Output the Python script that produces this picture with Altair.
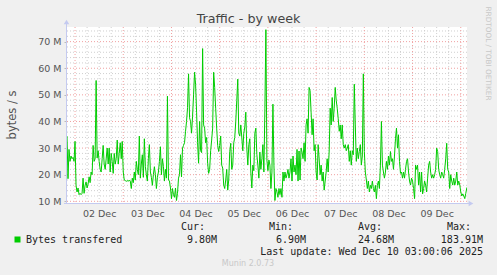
import json
import altair as alt
import pandas as pd

# ---- data (values in millions of bytes/s, one sample every 30 min) ----
bytes_m = [
    # Dec 1 20:00 - 23:30
    34.5, 18.5, 29.5, 25, 27, 26, 26.5, 25,
    # Dec 2
    32.5, 16, 13.5, 15, 12.5, 13, 12.5, 13, 18.7, 13, 16, 17.3, 15, 16.5, 19.2, 17,
    21, 20, 31, 25, 26, 55.4, 26.3, 29, 25, 22, 21, 26, 31, 24, 22, 26,
    30, 24, 30, 21, 28, 25, 20.5, 28, 24, 26, 33, 24, 28, 32, 26, 32.5,
    # Dec 3
    21, 18, 17.8, 17.5, 17.8, 17.5, 18, 17.6, 14.8, 18.7, 17, 21, 18, 25, 22, 20,
    34.5, 18.7, 24, 27.5, 19, 33.5, 23, 20, 17.6, 26, 31.3, 21, 19, 16, 20, 23,
    20, 14.8, 19, 21, 25, 30.5, 20, 26, 23, 17.6, 22, 18.7, 49.5, 18, 17.6, 15,
    # Dec 4
    11, 14.8, 12.5, 11.5, 15, 10.3, 13, 18.7, 20, 27.5, 19.2, 30, 31, 32, 36.3, 40,
    45.2, 57.9, 41.4, 40, 35.6, 42, 50, 58.5, 54, 43.5, 32, 24.3, 40, 29, 28.3, 67.4,
    38.7, 37.5, 32, 34, 24.3, 20.5, 22, 29, 33, 37.5, 58.5, 52.8, 45, 37.5, 31, 28.7,
    # Dec 5
    31, 34.5, 23.6, 22.5, 16.1, 14.8, 18, 22, 14.2, 18, 28.7, 31.8, 22, 23.6, 32, 34,
    40, 47.8, 55.9, 35.6, 34.5, 38.7, 34, 29, 35.6, 38, 43.5, 30, 23.6, 31.3, 33.5, 21,
    15, 23.6, 21.5, 35.6, 37.5, 27.5, 23.6, 18.7, 28.5, 22, 26, 31.3, 21, 45, 74.5, 25.5,
    # Dec 6
    21.5, 25.5, 23.6, 14.8, 21, 46.5, 23.6, 10.3, 14.8, 13.5, 11.5, 14.8, 12.5, 14.8, 11.5, 21,
    17.6, 21, 18.7, 20, 22, 18.7, 21, 26, 17.6, 27, 21, 23.6, 20, 29.5, 17.6, 28.9,
    18, 30, 28.5, 26, 32, 25, 38.7, 41, 35.6, 52.8, 51.5, 43.5, 35, 41, 29, 31.3,
    # Dec 7
    21, 18, 31.3, 26, 20, 23.6, 17.6, 21, 14.2, 17.6, 21, 26, 21, 28.9, 45, 38.7,
    49, 40, 45, 52.8, 48, 45, 41, 36.3, 38.7, 33.5, 38.7, 31.3, 30, 31.3, 29, 30,
    31.3, 25, 29, 23.6, 29, 27.5, 54, 38.7, 25, 30, 26, 28.7, 31.3, 23.6, 27, 57.9,
    # Dec 8
    28.7, 21, 18, 14.8, 17.6, 13.5, 16, 14.8, 17.6, 14.8, 13.5, 16, 11, 16, 17.6, 14.8,
    23.6, 40, 23.6, 21, 18.7, 21, 25, 22, 27, 23.6, 28.7, 25, 26, 22, 27, 33.5,
    37.5, 30, 35, 25, 20.5, 21, 18.7, 21, 18.7, 22, 25, 26, 21, 17.6, 16.1, 18.7,
    # Dec 9
    17.6, 14.8, 11, 23.6, 22, 23.6, 16.1, 21, 13.5, 21, 12.8, 14.8, 17.6, 16.1, 13.5, 18.7,
    23.6, 25, 21, 18.7, 20, 18.7, 20, 22, 30, 28.7, 22, 20, 18.7, 21, 20, 18.7,
    22, 26, 31.8, 22, 21, 14.8, 20, 17.6, 16.1, 18.7, 16.1, 17.6, 21, 16.1, 17.6, 16.1,
    # Dec 10 00:00 - 03:30
    13.5, 12, 12.8, 12, 11, 13, 15, 15.5,
]
start_hour = -4.0          # first sample: Dec 1 20:00 (hours from Dec 2 00:00)
step_hours = 0.5
day_labels = ["02 Dec", "03 Dec", "04 Dec", "05 Dec", "06 Dec", "07 Dec", "08 Dec", "09 Dec"]
y_ticks = [10, 20, 30, 40, 50, 60, 70]
series_name = "Bytes transfered"
stat_names = ["Cur:", "Min:", "Avg:", "Max:"]
stat_values = ["9.80M", "6.90M", "24.68M", "183.91M"]
title_text = "Traffic - by week"
y_title = "bytes / s"
last_update = "Last update: Wed Dec 10 03:00:06 2025"
side_text = "RRDTOOL / TOBI OETIKER"
footer = "Munin 2.0.73"

# ---- layout ----
W, H = 400, 176
OX, OY = 67, 27            # plot-area origin in the page
X_DOMAIN = [-4.0, 195.1]
Y_DOMAIN = [9.36, 75.5]

df = pd.DataFrame({
    "h": [start_hour + step_hours * i for i in range(len(bytes_m))],
    "v": bytes_m,
})

xs = alt.Scale(domain=X_DOMAIN, nice=False, zero=False)
ys = alt.Scale(domain=Y_DOMAIN, nice=False, zero=False)

label_expr = "%s[floor(datum.value / 24)]" % json.dumps(day_labels)
x_axis = alt.Axis(
    values=[12 + 24 * k for k in range(len(day_labels))], labelExpr=label_expr,
    title=None, grid=False, domain=False, ticks=False, labelPadding=5,
    labelFont="DejaVu Sans", labelFontSize=9.5, labelColor="#555")
y_axis = alt.Axis(
    values=y_ticks, labelExpr="datum.value + ' M'", title=None, grid=False,
    domain=False, ticks=True, tickSize=3, tickColor="#BBBBBB", labelPadding=3,
    labelFont="DejaVu Sans", labelFontSize=9.5, labelColor="#555")

minor_y = [v for v in range(10, 76, 2) if v % 10]
major_y = y_ticks
minor_x = [h for h in range(6, 196, 6) if h % 24]
major_x = [h for h in range(0, 196, 24)]

MINOR_C = "#CFCFCF"
MAJOR_C = "#F0A0A0"
DASH = [1, 2]


def hrules(vals, color):
    return alt.Chart(pd.DataFrame({"v": vals})).mark_rule(
        color=color, strokeDash=DASH, strokeWidth=1
    ).encode(y=alt.Y("v:Q", scale=ys, axis=y_axis))


def vrules(vals, color):
    return alt.Chart(pd.DataFrame({"h": vals})).mark_rule(
        color=color, strokeDash=DASH, strokeWidth=1
    ).encode(x=alt.X("h:Q", scale=xs, axis=x_axis))


def txt(s, x, y, size=10, font="DejaVu Sans Mono", color="#222", align="left",
        baseline="middle", angle=0):
    kw = dict(font=font, fontSize=size, color=color, align=align, baseline=baseline)
    if angle:
        kw["angle"] = angle
    return alt.Chart(pd.DataFrame({"t": [s]})).mark_text(**kw).encode(
        x=alt.value(x - OX), y=alt.value(y - OY), text="t:N"
    )


line = alt.Chart(df).mark_line(color="#00CC00", strokeWidth=1, clip=True).encode(
    x=alt.X("h:Q", scale=xs, axis=x_axis),
    y=alt.Y("v:Q", scale=ys, axis=y_axis),
)

AXIS_C = "#C4CAF0"
axis_lines = [
    alt.Chart(pd.DataFrame({"a": [0]})).mark_rule(color=AXIS_C, strokeWidth=1).encode(
        x=alt.value(-0.5), y=alt.value(-4), y2=alt.value(H + 1)),
    alt.Chart(pd.DataFrame({"a": [0]})).mark_rule(color=AXIS_C, strokeWidth=1).encode(
        x=alt.value(-3), x2=alt.value(W + 3), y=alt.value(H + 0.5)),
    alt.Chart(pd.DataFrame({"a": [0]})).mark_point(
        shape="triangle-up", filled=True, color=AXIS_C, size=30, opacity=1).encode(
        x=alt.value(-0.5), y=alt.value(-5)),
    alt.Chart(pd.DataFrame({"a": [0]})).mark_point(
        shape="triangle-right", filled=True, color=AXIS_C, size=30, opacity=1).encode(
        x=alt.value(W + 4), y=alt.value(H + 0.5)),
]

texts = [
    txt(title_text, 248.5, 19, size=12.7, font="DejaVu Sans", color="#444", align="center"),
    txt(y_title, 13, 115, size=11.5, font="DejaVu Sans", color="#555", align="center", angle=270),
    txt(side_text, 487.5, 53.5, size=7.3, font="DejaVu Sans", color="#C8C8C8", align="center", angle=90),
    txt(series_name, 26, 240),
    txt(last_update, 483, 252, align="right"),
    txt(footer, 248, 264, size=8, font="DejaVu Sans", color="#C8C8C8", align="center"),
]
for name, x in zip(stat_names, [181, 269, 358, 447]):
    texts.append(txt(name, x, 227))
for val, x in zip(stat_values, [217, 306, 394, 483]):
    texts.append(txt(val, x, 240, align="right"))

legend_sq = alt.Chart(pd.DataFrame({"a": [0]})).mark_square(
    color="#00CC00", size=36, opacity=1).encode(x=alt.value(17.5 - OX), y=alt.value(239.5 - OY))

chart = alt.layer(
    hrules(minor_y, MINOR_C), vrules(minor_x, MINOR_C),
    hrules(major_y, MAJOR_C), vrules(major_x, MAJOR_C),
    line, *axis_lines, legend_sq, *texts,
).properties(
    width=W, height=H,
    autosize=alt.AutoSizeParams(type="none"),
    padding={"left": OX, "top": OY, "right": 497 - OX - W, "bottom": 275 - OY - H},
    background="#F0F0F0",
).configure_view(fill="white", stroke=None)

chart.save("out.html", embed_options={"renderer": "svg", "actions": False})
